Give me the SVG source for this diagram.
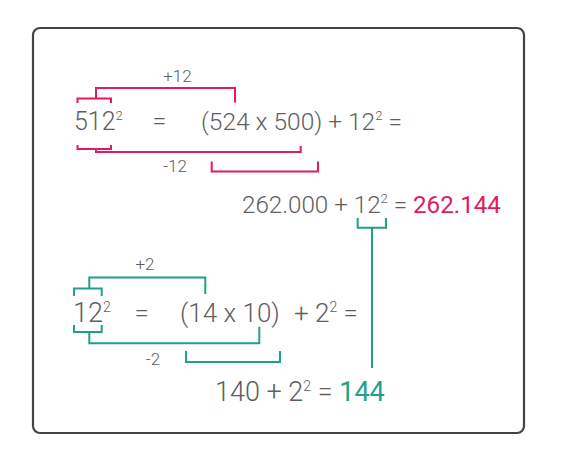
<svg xmlns="http://www.w3.org/2000/svg" width="585" height="469" viewBox="0 0 585 469">
<style>
.t{font-family:Roboto,"Liberation Sans",sans-serif;font-weight:300;fill:#5e5e5e;font-size:25px}
.s{font-size:13px}
.l{font-family:Roboto,"Liberation Sans",sans-serif;font-weight:300;fill:#5e5e5e;font-size:17px;text-anchor:middle}
.p{fill:none;stroke:#e4195f;stroke-width:2}
.g{fill:none;stroke:#1fa08b;stroke-width:2}
.rp{fill:#e4195f;font-weight:400}
.rg{fill:#1fa08b;font-weight:400}
</style>
<rect x="33" y="28" width="491" height="405" rx="7" fill="#fff" stroke="#444" stroke-width="2.2"/>
<g id="connectors">
<path class="p" d="M77.5,103 V98.5 H111 V103"/>
<path class="p" d="M96,98.5 V88 H235 V102.5"/>
<path class="p" d="M77.5,145 V149 H111 V145"/>
<path class="p" d="M96,149 V152 H300.7 V146"/>
<path class="p" d="M211.7,161.5 V171.5 H318 V161.5"/>
<path class="g" d="M74,296 V288.5 H101.7 V296"/>
<path class="g" d="M89.3,288.5 V277.5 H205.3 V294"/>
<path class="g" d="M74,325 V332 H101.7 V325"/>
<path class="g" d="M89.3,332 V343.3 H259.3 V326.7"/>
<path class="g" d="M186,351 V362 H280 V351"/>
<path class="g" d="M357.7,218 V227.7 H386 V218 M372,227.7 V368"/>
</g>
<g id="labels">
<text class="l" x="177.5" y="81.5">+12</text>
<text class="l" x="175" y="171.5">-12</text>
<text class="l" x="145" y="269.5">+2</text>
<text class="l" x="153" y="364.5">-2</text>
</g>
<g id="row1">
<text class="t" x="74" y="130">512<tspan class="s" dy="-10">2</tspan></text>
<text class="t" x="159.5" y="130" text-anchor="middle">=</text>
<text class="t" x="201" y="130" style="font-size:24.5px">(524 x 500) + 12<tspan class="s" dy="-10">2</tspan><tspan dy="10"> =</tspan></text>
</g>
<g id="row2">
<text class="t" x="242" y="213" style="font-size:24.2px">262.000 + 12<tspan class="s" dy="-10">2</tspan><tspan dy="10"> = </tspan><tspan class="rp">262.144</tspan></text>
</g>
<g id="row3">
<text class="t" x="73" y="322" style="font-size:27px">12<tspan dy="-10" style="font-size:14px">2</tspan></text>
<text class="t" x="141.7" y="322" text-anchor="middle" style="font-size:26px">=</text>
<text class="t" x="180" y="322" style="font-size:26px">(14 x 10)</text>
<text class="t" x="294" y="322" style="font-size:26px">+ 2<tspan dy="-10" style="font-size:14px">2</tspan><tspan dy="10"> =</tspan></text>
</g>
<g id="row4">
<text class="t" x="215" y="401" style="font-size:27px">140 + 2<tspan dy="-10" style="font-size:14px">2</tspan><tspan dy="10"> = </tspan><tspan class="rg">144</tspan></text>
</g>
</svg>
